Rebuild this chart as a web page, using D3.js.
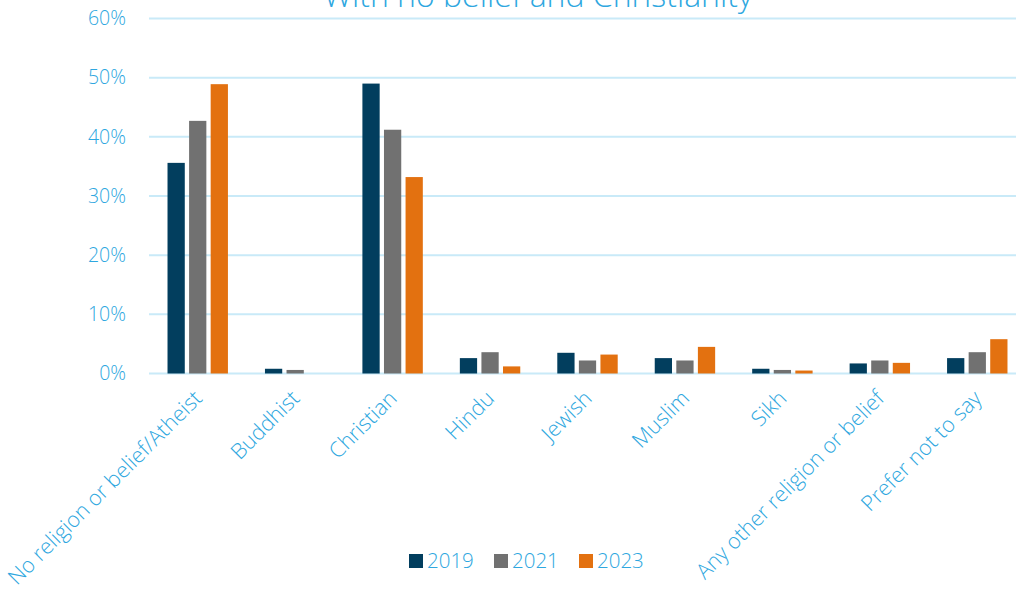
<html>
<head>
<script src="https://d3js.org/d3.v7.min.js"></script>
<style>
    body { margin: 0; background: #fff; }
    text { font-family: "Open Sans", sans-serif; font-weight: 300; fill: #2ea7e0; }
    .grid line { stroke: #c9eaf8; stroke-width: 2px; }
</style>
</head>
<body>
<svg id="chart" width="1016" height="589"></svg>
<script>
    const categories = ['No religion or belief/Atheist', 'Buddhist', 'Christian', 'Hindu', 'Jewish',
        'Muslim', 'Sikh', 'Any other religion or belief', 'Prefer not to say'];
    const years = ['2019', '2021', '2023'];
    const values2019 = [35.6, 0.8, 49.0, 2.6, 3.5, 2.6, 0.8, 1.7, 2.6];
    const values2021 = [42.7, 0.6, 41.2, 3.6, 2.2, 2.2, 0.6, 2.2, 3.6];
    const values2023 = [48.9, 0, 33.2, 1.2, 3.2, 4.5, 0.5, 1.8, 5.8];
    const yTicks = [0, 10, 20, 30, 40, 50, 60];
    const colors = ['#023e5e', '#717171', '#e37110'];
    const title = 'With no belief and Christianity';

    const series = [values2019, values2021, values2023];

    const svg = d3.select('#chart');

    const x = d3.scaleBand().domain(categories).range([149, 1026]);
    const xYear = d3.scaleBand().domain(years).range([x.bandwidth() * 0.19, x.bandwidth() * 0.81]).paddingInner(0.2);
    const y = d3.scaleLinear().domain([0, 60]).range([373.5, 18.5]);

    // gridlines
    svg.append('g').attr('class', 'grid')
        .selectAll('line')
        .data(yTicks)
        .join('line')
        .attr('x1', 149).attr('x2', 1016)
        .attr('y1', d => y(d)).attr('y2', d => y(d));

    // y tick labels
    svg.append('g')
        .selectAll('text')
        .data(yTicks)
        .join('text')
        .attr('x', 126)
        .attr('y', d => y(d))
        .attr('dy', '0.35em')
        .attr('text-anchor', 'end')
        .style('font-size', '19.5px')
        .text(d => d + '%');

    // bars
    const groups = svg.append('g')
        .selectAll('g')
        .data(categories)
        .join('g')
        .attr('transform', d => `translate(${x(d)},0)`);

    groups.selectAll('rect')
        .data((d, i) => years.map((yr, j) => ({ yr, v: series[j][i], c: colors[j] })))
        .join('rect')
        .attr('x', d => xYear(d.yr))
        .attr('width', xYear.bandwidth())
        .attr('y', d => y(d.v))
        .attr('height', d => y(0) - y(d.v))
        .attr('fill', d => d.c);

    // x labels
    svg.append('g')
        .selectAll('text')
        .data(categories)
        .join('text')
        .attr('transform', d => `translate(${x(d) + x.bandwidth() / 2 - 5},389) rotate(-45)`)
        .attr('text-anchor', 'end')
        .attr('dy', '0.7em')
        .style('font-size', '21.5px')
        .text(d => d);

    // title
    svg.append('text')
        .attr('x', 538)
        .attr('y', 7)
        .attr('text-anchor', 'middle')
        .style('font-size', '32px')
        .text(title);

    // legend
    const legend = svg.append('g')
        .selectAll('g')
        .data(years)
        .join('g')
        .attr('transform', (d, i) => `translate(${409 + i * 85},554)`);

    legend.append('rect')
        .attr('width', 14).attr('height', 14)
        .attr('fill', (d, i) => colors[i]);

    legend.append('text')
        .attr('x', 18)
        .attr('y', 7)
        .attr('dy', '0.35em')
        .style('font-size', '20.5px')
        .text(d => d);
</script>
</body>
</html>
